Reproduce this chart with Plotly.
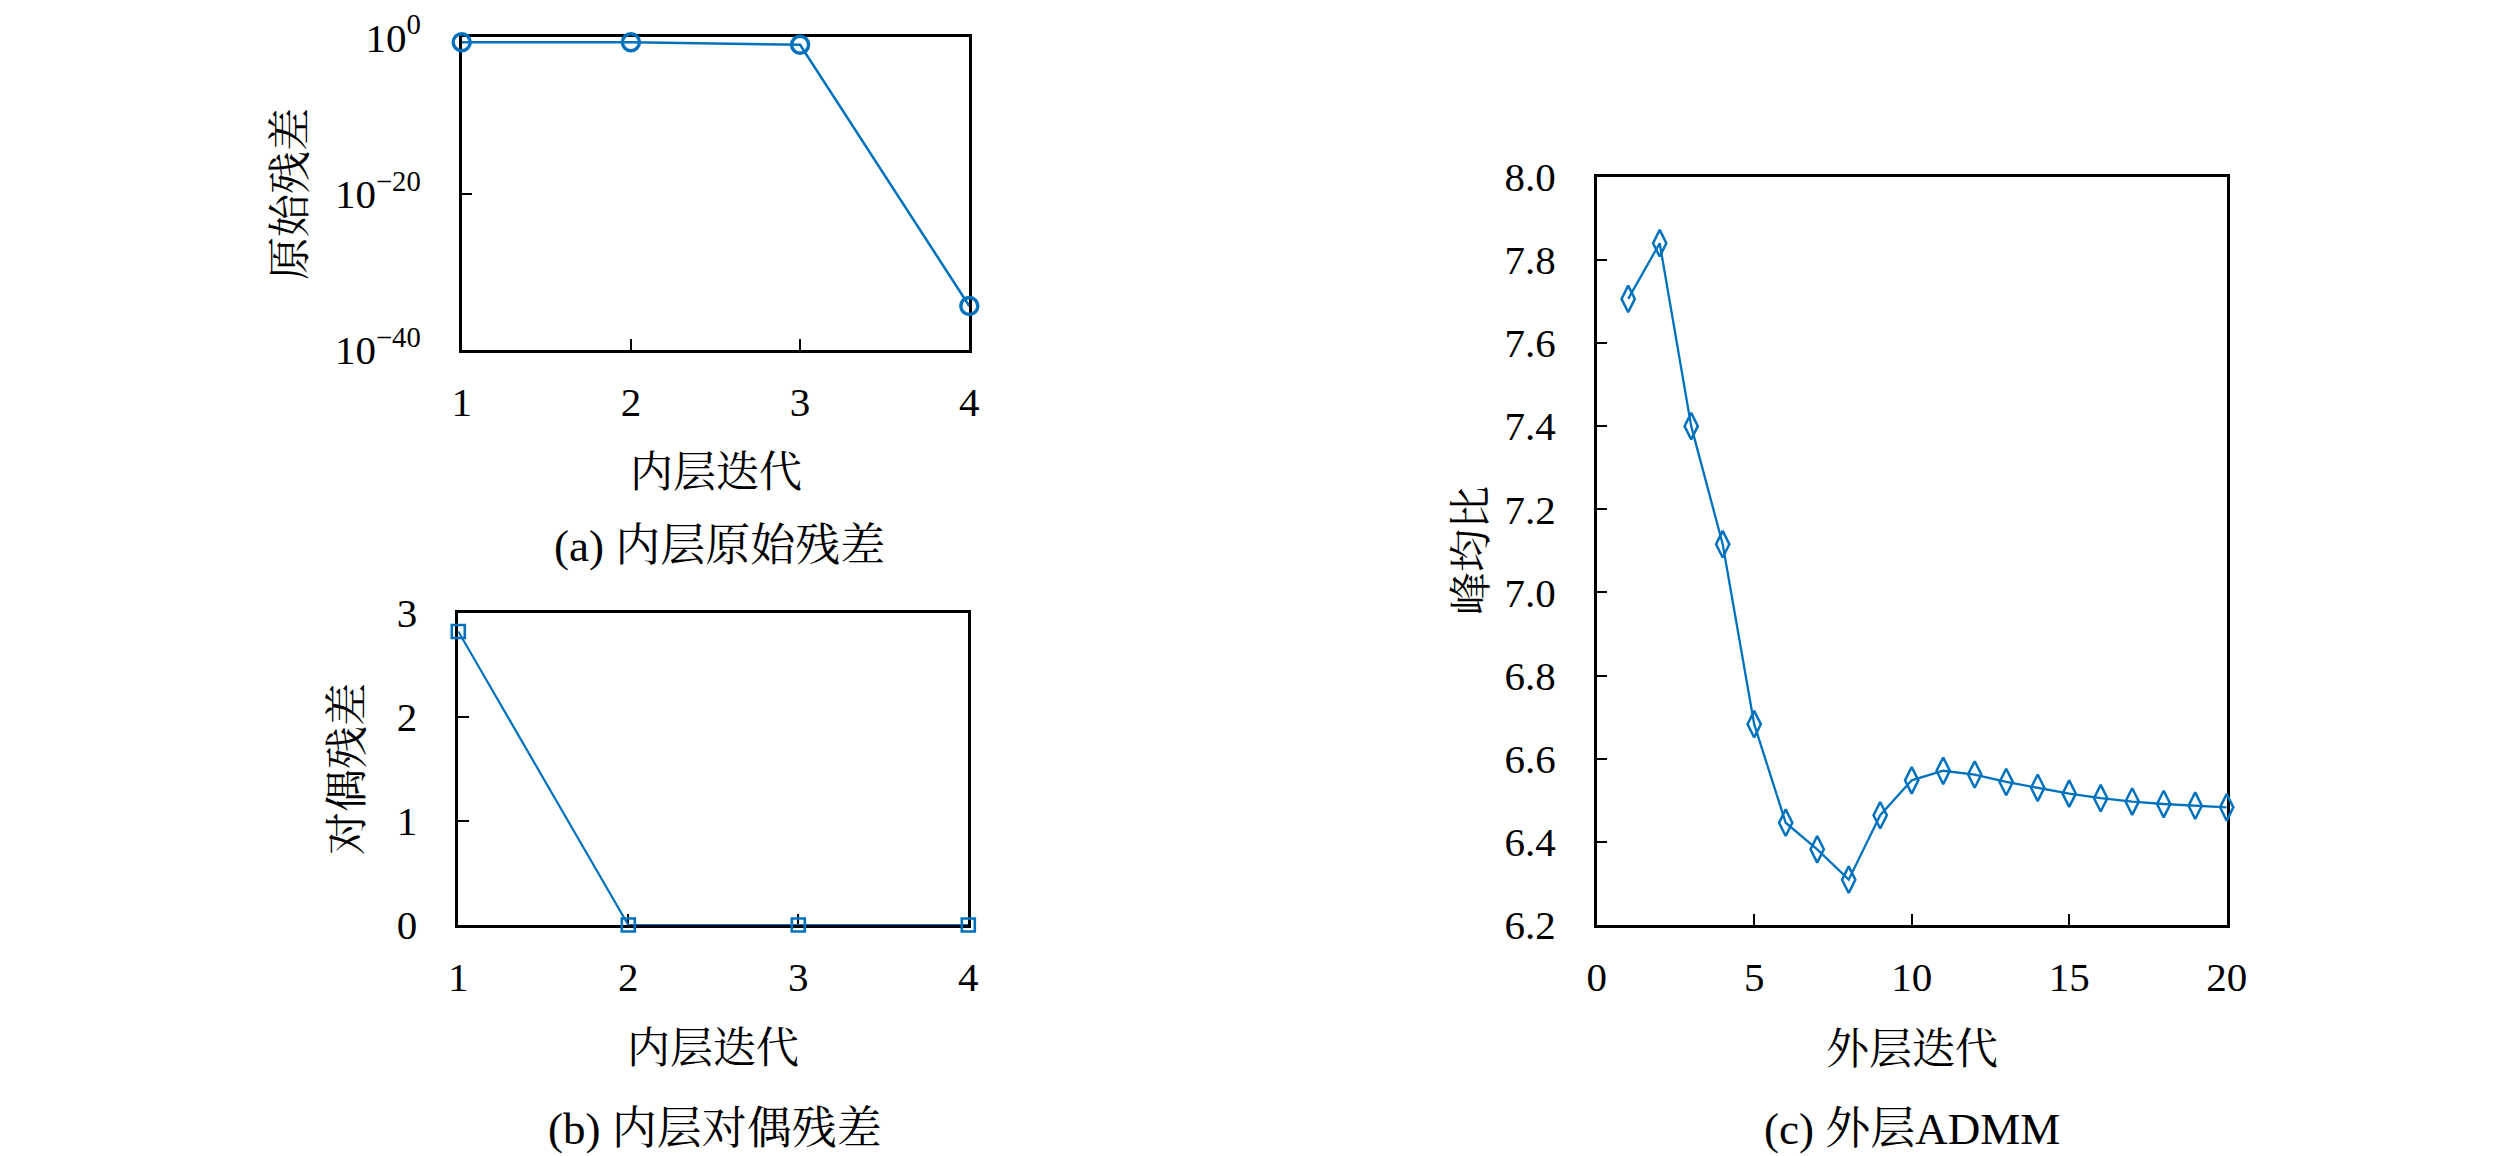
import plotly.graph_objects as go

# ---------------- data ----------------
inner_iter = [1, 2, 3, 4]
primal_residual = [0.23, 0.23, 0.11, 4.3e-35]
dual_residual = [2.82, 0.0, 0.0, 0.0]

outer_iter = list(range(1, 21))
papr = [7.706, 7.840, 7.400, 7.116, 6.683, 6.446, 6.382, 6.309, 6.464, 6.548,
        6.571, 6.562, 6.544, 6.530, 6.516, 6.505, 6.497, 6.491, 6.487, 6.483]

log_tickvals = [1e-40, 1e-20, 1e0]
log_ticktext = ["10<sup>−40</sup>", "10<sup>−20</sup>", "10<sup>0</sup>"]

texts = {
    "ya": "原始残差", "xa": "内层迭代", "ca": "(a) 内层原始残差",
    "yb": "对偶残差", "xb": "内层迭代", "cb": "(b) 内层对偶残差",
    "yc": "峰均比", "xc": "外层迭代", "cc": "(c) 外层ADMM",
}

# ---------------- layout helpers ----------------
OFF = 8                      # default page body margin
W, H = 2520 - 2 * OFF, 1156 - OFF
BLUE = "#0072BD"
FONT = "Liberation Serif, Noto Serif CJK SC, Noto Sans CJK SC, serif"


def px(x):
    return (x - OFF) / W


def py(y):
    return 1 - (y - OFF) / H


fig = go.Figure()

fig.add_trace(go.Scatter(
    x=inner_iter, y=primal_residual, mode="lines+markers",
    line=dict(color=BLUE, width=2.5),
    marker=dict(symbol="circle-open", size=17, color=BLUE, line=dict(width=3.4, color=BLUE)),
    cliponaxis=False, xaxis="x", yaxis="y", showlegend=False))

fig.add_trace(go.Scatter(
    x=inner_iter, y=dual_residual, mode="lines+markers",
    line=dict(color=BLUE, width=2.2),
    marker=dict(symbol="square-open", size=13, color=BLUE, line=dict(width=2.6, color=BLUE)),
    cliponaxis=False, xaxis="x2", yaxis="y2", showlegend=False))

fig.add_trace(go.Scatter(
    x=outer_iter, y=papr, mode="lines+markers",
    line=dict(color=BLUE, width=2.3),
    marker=dict(symbol="diamond-tall-open", size=19, color=BLUE, line=dict(width=2.5, color=BLUE)),
    cliponaxis=False, xaxis="x3", yaxis="y3", showlegend=False))

axis_common = dict(
    showline=True, linecolor="black", linewidth=2.5, mirror=True,
    ticks="inside", ticklen=11, tickwidth=2, tickcolor="black",
    showgrid=False, zeroline=False, layer="below traces", automargin=False,
    tickfont=dict(family=FONT, size=41, color="black"),
)

XSO, YSO = 14, 30

fig.update_layout(
    template="none",
    xaxis=dict(domain=[px(461.7), px(969.3)], anchor="y", range=[1, 4],
               tickvals=inner_iter, ticklabelstandoff=XSO, **axis_common),
    yaxis=dict(domain=[py(350), py(37.3)], anchor="x", type="log", range=[-40, 0],
               tickvals=log_tickvals, ticktext=log_ticktext, ticklabelstandoff=YSO,
               **axis_common),
    xaxis2=dict(domain=[px(458.3), px(968.3)], anchor="y2", range=[1, 4],
                tickvals=inner_iter, ticklabelstandoff=XSO, **axis_common),
    yaxis2=dict(domain=[py(925), py(612.7)], anchor="x2", range=[0, 3],
                tickvals=[0, 1, 2, 3], ticklabelstandoff=YSO, **axis_common),
    xaxis3=dict(domain=[px(1596.7), px(2226.7)], anchor="y3", range=[0, 20],
                tickvals=[0, 5, 10, 15, 20], ticklabelstandoff=XSO, **axis_common),
    yaxis3=dict(domain=[py(925), py(176.7)], anchor="x3", range=[6.2, 8.0],
                dtick=0.2, tick0=6.2, tickformat=".1f", ticklabelstandoff=YSO,
                **axis_common),
)

ann = []


def add_text(t, x, y, angle=0, size=43):
    ann.append(dict(text=t, x=px(x), y=py(y), xref="paper", yref="paper",
                    xanchor="center", yanchor="middle", showarrow=False,
                    textangle=angle, font=dict(family=FONT, size=size, color="black")))


add_text(texts["ya"], 290, 194, -90)
add_text(texts["xa"], 715.5, 473)
add_text(texts["ca"], 719, 546, size=45)

add_text(texts["yb"], 347, 769, -90)
add_text(texts["xb"], 713, 1048)
add_text(texts["cb"], 715, 1129, size=45)

add_text(texts["yc"], 1472, 551, -90)
add_text(texts["xc"], 1912, 1049)
add_text(texts["cc"], 1912, 1129, size=45)

fig.update_layout(
    annotations=ann,
    width=W, height=H,
    margin=dict(l=0, r=0, t=0, b=0, pad=0),
    paper_bgcolor="white", plot_bgcolor="white",
    font=dict(family=FONT, color="black"),
)

fig.write_html("out.html")
